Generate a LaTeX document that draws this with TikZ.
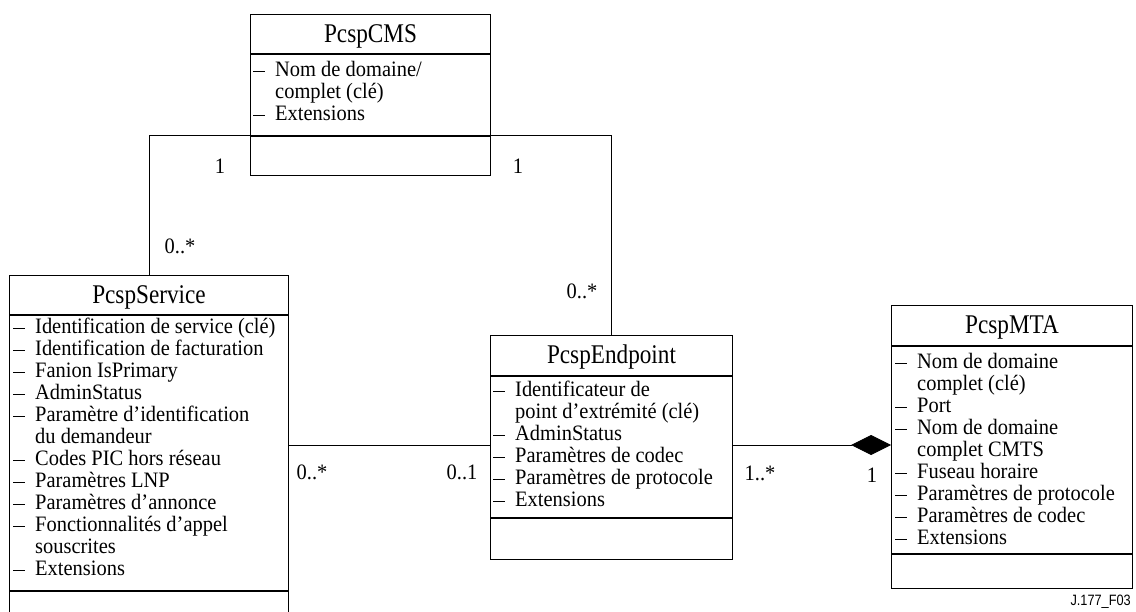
\documentclass[tikz,border=0pt]{standalone}
\usepackage{fontspec}
\setmainfont[FakeStretch=0.93]{Liberation Serif}
\newfontfamily\titleserif[FakeStretch=0.86]{Liberation Serif}
\newfontfamily\figsans[FakeStretch=0.85]{Liberation Sans}
\usetikzlibrary{arrows.meta}
\newcommand\attrdash{\hspace{3pt}\rule[5pt]{12pt}{0.9pt}}
\newcommand\attrline[1]{\hbox{\makebox[25pt][l]{\attrdash}#1}}
\newcommand\attrcont[1]{\hbox{\hspace{25pt}#1}}
\newcommand\attrblock[1]{\vtop{\fontsize{22}{22}\selectfont #1}}
\tikzset{
  comp/.style={draw, line width=1pt, inner sep=0pt, anchor=north west, minimum width=#1},
  title/.style={font=\titleserif\fontsize{27}{27}\selectfont, text height=18pt, text depth=0pt, minimum height=39pt},
  attrtext/.style={anchor=base west, inner sep=0pt},
  mult/.style={font=\fontsize{22}{22}\selectfont, inner sep=0pt},
  conn/.style={line width=1pt},
}
\begin{document}
\begin{tikzpicture}[x=1pt,y=-1pt]
\clip (0,0) rectangle (1136,612);
% PcspCMS
\node[comp=240pt, title] (cmst) at (250,14) {PcspCMS};
\node[comp=240pt, minimum height=81pt] (cmsa) at (cmst.south west) {};
\node[comp=240pt, minimum height=39pt] (cmso) at (cmsa.south west) {};
\node[attrtext] (cmstx) at (250,77) {\attrblock{\attrline{Nom de domaine/}\attrcont{complet (clé)}\attrline{Extensions}}};
% PcspService
\node[comp=279pt, title] (svt) at (9,275) {PcspService};
\node[comp=279pt, minimum height=275pt] (sva) at (svt.south west) {};
\node[comp=279pt, minimum height=40pt] (svo) at (sva.south west) {};
\node[attrtext] (svtx) at (10,334) {\attrblock{%
\attrline{Identification de service (clé)}%
\attrline{Identification de facturation}%
\attrline{Fanion IsPrimary}%
\attrline{AdminStatus}%
\attrline{Paramètre d’identification}%
\attrcont{du demandeur}%
\attrline{Codes PIC hors réseau}%
\attrline{Paramètres LNP}%
\attrline{Paramètres d’annonce}%
\attrline{Fonctionnalités d’appel}%
\attrcont{souscrites}%
\attrline{Extensions}}};
% PcspEndpoint
\node[comp=242pt, title, minimum height=40pt, text height=17pt] (ept) at (490,335) {PcspEndpoint};
\node[comp=242pt, minimum height=141pt] (epa) at (ept.south west) {};
\node[comp=242pt, minimum height=41pt] (epo) at (epa.south west) {};
\node[attrtext] (eptx) at (490,397) {\attrblock{%
\attrline{Identificateur de}%
\attrcont{point d’extrémité (clé)}%
\attrline{AdminStatus}%
\attrline{Paramètres de codec}%
\attrline{Paramètres de protocole}%
\attrline{Extensions}}};
% PcspMTA
\node[comp=241pt, title, minimum height=40pt, text height=17pt] (mtat) at (891,305) {PcspMTA};
\node[comp=241pt, minimum height=207pt] (mtaa) at (mtat.south west) {};
\node[comp=241pt, minimum height=34pt] (mtao) at (mtaa.south west) {};
\node[attrtext] (mtatx) at (892,369) {\attrblock{%
\attrline{Nom de domaine}%
\attrcont{complet (clé)}%
\attrline{Port}%
\attrline{Nom de domaine}%
\attrcont{complet CMTS}%
\attrline{Fuseau horaire}%
\attrline{Paramètres de protocole}%
\attrline{Paramètres de codec}%
\attrline{Extensions}}};
% connectors
\coordinate (yline) at (0,445);
\draw[conn] (cmsa.south west) -| (svt.north);
\draw[conn] (cmsa.south east) -| (ept.north);
\draw[conn] (sva.east |- yline) -- (epa.west |- yline);
\draw[conn, -{Diamond[length=40pt, width=20pt]}] (epa.east |- yline) -- (mtaa.west |- yline);
% multiplicities
\node[mult] (m1) at (220,166) {1};
\node[mult] (m2) at (518,166) {1};
\node[mult] (m3) at (180,246) {0..*};
\node[mult] (m4) at (582,291) {0..*};
\node[mult] (m5) at (312,472) {0..*};
\node[mult] (m6) at (462,472) {0..1};
\node[mult] (m7) at (760,473) {1..*};
\node[mult] (m8) at (872,475) {1};
\node[anchor=base east, inner sep=0pt, font=\figsans\fontsize{15}{15}\selectfont] (fig) at (1131,605) {J.177\_F03};
\end{tikzpicture}
\end{document}
